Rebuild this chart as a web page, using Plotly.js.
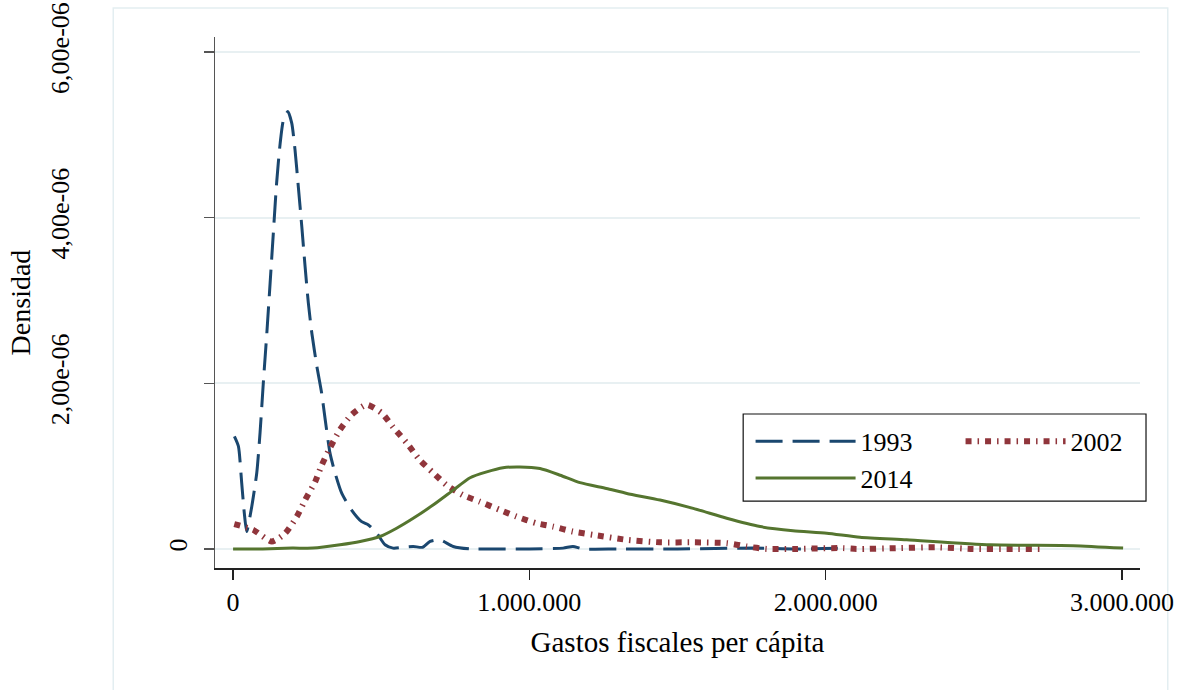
<!DOCTYPE html>
<html>
<head>
<meta charset="utf-8">
<script src="https://cdn.plot.ly/plotly-3.0.1.min.js"></script>
<style>
  html, body { margin: 0; padding: 0; background: #ffffff; }
  #density-plot { width: 1184px; height: 690px; }
</style>
</head>
<body>
<div id="density-plot"></div>
<script>
const YEARS = ["1993", "2002", "2014"];

const X_1993 = [4500, 18000, 29000, 38000, 46000, 63000, 80000, 91000, 102000, 114000, 125000, 136000, 147000, 159000, 170000, 185000, 198000, 209000, 220000, 232000, 243000, 254000, 266000, 283000, 299000, 311000, 327000, 344000, 367000, 400000, 434000, 457000, 485000, 513000, 540000, 575000, 608000, 640000, 665000, 698000, 743000, 800000, 900000, 1000000, 1114000, 1147000, 1181000, 1300000, 1500000, 1755000, 1900000, 2060000];
const Y_1993 = [1.36e-6, 1.24e-6, 0.80e-6, 0.43e-6, 0.21e-6, 0.51e-6, 0.92e-6, 1.40e-6, 2.00e-6, 2.61e-6, 3.21e-6, 3.82e-6, 4.42e-6, 4.90e-6, 5.18e-6, 5.28e-6, 5.14e-6, 4.82e-6, 4.38e-6, 3.89e-6, 3.41e-6, 2.97e-6, 2.60e-6, 2.20e-6, 1.88e-6, 1.56e-6, 1.16e-6, 0.92e-6, 0.67e-6, 0.47e-6, 0.33e-6, 0.29e-6, 0.19e-6, 0.05e-6, 0.01e-6, 0.02e-6, 0.03e-6, 0.02e-6, 0.09e-6, 0.11e-6, 0.03e-6, 0.0, 0.0, 0.0, 0.01e-6, 0.03e-6, 0.0, 0.0, 0.0, 0.01e-6, 0.0, 0.01e-6];

const X_2002 = [4000, 68000, 131000, 176000, 215000, 243000, 277000, 299000, 327000, 361000, 400000, 451000, 502000, 540000, 586000, 631000, 675000, 721000, 776000, 833000, 901000, 957000, 1024000, 1080000, 1147000, 1216000, 1329000, 1441000, 1553000, 1666000, 1733000, 1801000, 1890000, 2059000, 2104000, 2239000, 2374000, 2498000, 2633000, 2724000];
const Y_2002 = [0.30e-6, 0.23e-6, 0.09e-6, 0.19e-6, 0.39e-6, 0.59e-6, 0.81e-6, 1.01e-6, 1.22e-6, 1.44e-6, 1.62e-6, 1.74e-6, 1.64e-6, 1.47e-6, 1.28e-6, 1.07e-6, 0.92e-6, 0.77e-6, 0.65e-6, 0.57e-6, 0.47e-6, 0.39e-6, 0.31e-6, 0.27e-6, 0.21e-6, 0.17e-6, 0.11e-6, 0.08e-6, 0.08e-6, 0.07e-6, 0.03e-6, 0.0, 0.0, 0.01e-6, 0.0, 0.01e-6, 0.02e-6, 0.0, 0.0, 0.0];

const X_2014 = [0, 100000, 200000, 270000, 361000, 429000, 496000, 552000, 608000, 675000, 743000, 800000, 856000, 911000, 968000, 1036000, 1104000, 1171000, 1260000, 1329000, 1441000, 1553000, 1666000, 1779000, 1890000, 2004000, 2116000, 2273000, 2555000, 2836000, 3004000];
const Y_2014 = [0.0, 0.0, 0.01e-6, 0.01e-6, 0.05e-6, 0.09e-6, 0.15e-6, 0.25e-6, 0.37e-6, 0.53e-6, 0.71e-6, 0.86e-6, 0.93e-6, 0.98e-6, 0.99e-6, 0.97e-6, 0.89e-6, 0.80e-6, 0.73e-6, 0.67e-6, 0.59e-6, 0.49e-6, 0.37e-6, 0.27e-6, 0.22e-6, 0.19e-6, 0.14e-6, 0.11e-6, 0.05e-6, 0.04e-6, 0.01e-6];

const X_TICKS = [0, 1000000, 2000000, 3000000];
const X_TICK_LABELS = ["0", "1.000.000", "2.000.000", "3.000.000"];
const Y_ZERO_TICKS = [0];
const Y_ZERO_LABELS = ["0"];
const Y_TICKS = [2e-6, 4e-6, 6e-6];
const Y_TICK_LABELS = ["2,00e-06", "4,00e-06", "6,00e-06"];

const X_TITLE = "Gastos fiscales per cápita";
const Y_TITLE = "Densidad";

const FONT = "'Liberation Serif', 'Times New Roman', serif";
const GRID = "#e8f0f2";
const X_RANGE = [-61000, 3061000];
const Y_RANGE = [-0.23e-6, 6.18e-6];

// the 2014 curve sits on the overlaying axis that carries the long tick labels;
// both y axes share the same range, so it is drawn at the same scale
const data = [
  {
    x: X_1993, y: Y_1993, name: YEARS[0], type: "scatter", mode: "lines",
    line: { color: "#1a476f", width: 3, dash: "27px,10px", shape: "spline", smoothing: 0.6 },
    legend: "legend", hoverinfo: "skip"
  },
  {
    x: X_2002, y: Y_2002, name: YEARS[1], type: "scatter", mode: "lines",
    line: { color: "#90353b", width: 6, dash: "6px,6px,1.5px,6px", shape: "spline", smoothing: 0.6 },
    legend: "legend2", hoverinfo: "skip"
  },
  {
    x: X_2014, y: Y_2014, name: YEARS[2], type: "scatter", mode: "lines", yaxis: "y2",
    line: { color: "#55752f", width: 3, shape: "spline", smoothing: 0.6 },
    legend: "legend", hoverinfo: "skip"
  }
];

const legendCommon = {
  xanchor: "left", yanchor: "top",
  bgcolor: "rgba(0,0,0,0)", borderwidth: 0,
  font: { family: FONT, size: 26, color: "#000" },
  itemwidth: 100, tracegroupgap: 0
};

const layout = {
  width: 1184,
  height: 690,
  margin: { t: 37, r: 44, b: 122, l: 215 },
  paper_bgcolor: "#ffffff",
  plot_bgcolor: "#ffffff",
  font: { family: FONT, size: 26, color: "#000" },
  xaxis: {
    range: X_RANGE,
    tickvals: X_TICKS, ticktext: X_TICK_LABELS,
    showgrid: false, zeroline: false,
    showline: true, linecolor: "#222", linewidth: 1.5,
    ticks: "outside", ticklen: 10, tickwidth: 1.5, tickcolor: "#222",
    tickfont: { family: FONT, size: 26 },
    title: { text: X_TITLE, font: { family: FONT, size: 29 }, standoff: 16 }
  },
  yaxis: {
    range: Y_RANGE,
    tickvals: Y_ZERO_TICKS, ticktext: Y_ZERO_LABELS,
    tickangle: -90,
    showgrid: true, gridcolor: GRID, gridwidth: 2, zeroline: false,
    showline: true, linecolor: "#555", linewidth: 1.5,
    ticks: "outside", ticklen: 10, tickwidth: 1.5, tickcolor: "#555",
    ticklabelstandoff: 6,
    tickfont: { family: FONT, size: 26 }
  },
  yaxis2: {
    range: Y_RANGE, overlaying: "y", side: "left",
    tickvals: Y_TICKS, ticktext: Y_TICK_LABELS,
    tickangle: -90,
    showgrid: true, gridcolor: GRID, gridwidth: 2, zeroline: false,
    showline: false,
    ticks: "outside", ticklen: 10, tickwidth: 1.5, tickcolor: "#555",
    ticklabelstandoff: 125,
    tickfont: { family: FONT, size: 26 },
    title: { text: Y_TITLE, font: { family: FONT, size: 28 }, standoff: 6 }
  },
  legend: Object.assign({ x: 0.579, y: 0.283 }, legendCommon),
  legend2: Object.assign({ x: 0.806, y: 0.283 }, legendCommon),
  shapes: [
    {
      type: "rect", xref: "paper", yref: "paper",
      x0: -0.110, x1: 1.030, y0: -0.26, y1: 1.0546,
      line: { color: "#e3eef1", width: 1.5 }, layer: "below"
    },
    {
      type: "rect", xref: "paper", yref: "paper",
      x0: 0.571, x1: 1.0065, y0: 0.126, y1: 0.290,
      line: { color: "#111", width: 1.2 }, fillcolor: "#ffffff", layer: "above"
    }
  ],
  showlegend: true
};

Plotly.newPlot("density-plot", data, layout, { displayModeBar: false, staticPlot: true });
</script>
</body>
</html>
